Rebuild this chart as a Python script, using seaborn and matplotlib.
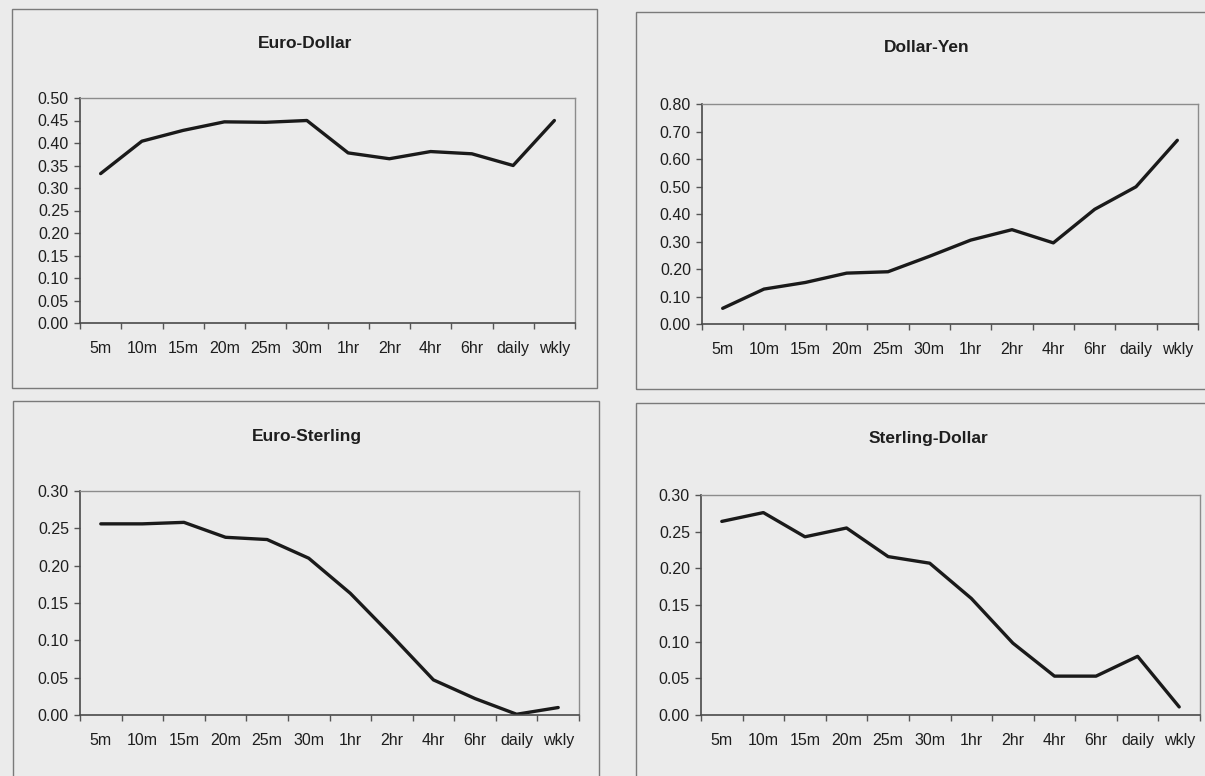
import numpy as np
import pandas as pd
import seaborn as sns
import matplotlib
matplotlib.use("Agg")
import matplotlib.pyplot as plt
from matplotlib.patches import Rectangle
from matplotlib.ticker import FixedLocator, FormatStrFormatter

# Sampling frequencies on the horizontal axis
frequencies = ["5m", "10m", "15m", "20m", "25m", "30m", "1hr", "2hr", "4hr", "6hr", "daily", "wkly"]

# Values for each currency pair
euro_dollar = [0.332, 0.404, 0.428, 0.447, 0.446, 0.450, 0.378, 0.365, 0.381, 0.376, 0.350, 0.450]
dollar_yen = [0.057, 0.127, 0.151, 0.185, 0.190, 0.246, 0.305, 0.343, 0.295, 0.417, 0.499, 0.668]
euro_sterling = [0.256, 0.256, 0.258, 0.238, 0.235, 0.210, 0.163, 0.106, 0.047, 0.022, 0.001, 0.010]
sterling_dollar = [0.264, 0.276, 0.243, 0.255, 0.216, 0.207, 0.159, 0.098, 0.053, 0.053, 0.080, 0.011]

titles = ["Euro-Dollar", "Dollar-Yen", "Euro-Sterling", "Sterling-Dollar"]
series = [euro_dollar, dollar_yen, euro_sterling, sterling_dollar]

# y-axis settings per panel: (max, step)
y_max = [0.50, 0.80, 0.30, 0.30]
y_step = [0.05, 0.10, 0.05, 0.05]

sns.set_theme(style="white")
plt.rcParams["font.family"] = ["Liberation Sans", "DejaVu Sans"]

W, H = 1205, 776
BG = "#ebebeb"
fig = plt.figure(figsize=(W / 100, H / 100), dpi=100, facecolor=BG)


def fx(px):
    return px / W


def fy(py):
    return 1 - py / H


# Pixel layouts: plot area (left, right, top, bottom), chart box, title centre
plot_areas = [(80, 575, 98, 323), (702, 1198, 104, 324),
              (80, 579, 491, 715), (701, 1200, 495, 715)]
chart_boxes = [(12, 597, 9, 388), (636, 1230, 12, 389),
               (13, 599, 401, 800), (636, 1230, 403, 800)]
title_pos = [(305, 43), (927, 47), (307, 437), (928, 438)]

for i in range(4):
    # outer chart frame
    bx0, bx1, by0, by1 = chart_boxes[i]
    fig.patches.append(Rectangle((fx(bx0), fy(by1)), fx(bx1 - bx0), (by1 - by0) / H,
                                 transform=fig.transFigure, fill=False,
                                 edgecolor="#7a7a7a", linewidth=1.0, zorder=0))

    l, r, t, b = plot_areas[i]
    ax = fig.add_axes([fx(l), fy(b), fx(r - l), (b - t) / H])
    ax.set_facecolor(BG)

    df = pd.DataFrame({"freq": frequencies, "value": series[i]})
    sns.lineplot(data=df, x="freq", y="value", ax=ax, sort=False,
                 color="#1a1a1a", linewidth=2.4)

    ax.set_xlim(-0.5, len(frequencies) - 0.5)
    ax.set_ylim(0, y_max[i])
    ax.set_xlabel("")
    ax.set_ylabel("")

    yt = np.arange(0, y_max[i] + y_step[i] / 2, y_step[i])
    ax.yaxis.set_major_locator(FixedLocator(yt))
    ax.yaxis.set_major_formatter(FormatStrFormatter("%.2f"))

    ax.set_xticks(range(len(frequencies)))
    ax.set_xticklabels(frequencies)
    ax.xaxis.set_minor_locator(FixedLocator(np.arange(-0.5, len(frequencies), 1.0)))

    ax.tick_params(axis="x", which="major", length=0, pad=13, labelsize=11.5,
                   labelcolor="#1e1e1e")
    ax.tick_params(axis="x", which="minor", bottom=True, length=4, width=1.0,
                   color="#555555", direction="out")
    ax.tick_params(axis="y", which="major", left=True, length=4, width=1.0,
                   color="#555555", direction="out", pad=4, labelsize=11.5,
                   labelcolor="#1e1e1e")
    ax.grid(False)

    for side in ("left", "bottom"):
        ax.spines[side].set_color("#4a4a4a")
        ax.spines[side].set_linewidth(1.2)
    for side in ("top", "right"):
        ax.spines[side].set_color("#8c8c8c")
        ax.spines[side].set_linewidth(1.0)

    tx, ty = title_pos[i]
    fig.text(fx(tx), fy(ty), titles[i], ha="center", va="center",
             fontsize=12.5, fontweight="bold", color="#1e1e1e")

fig.savefig("out.png", dpi=100, facecolor=BG)
